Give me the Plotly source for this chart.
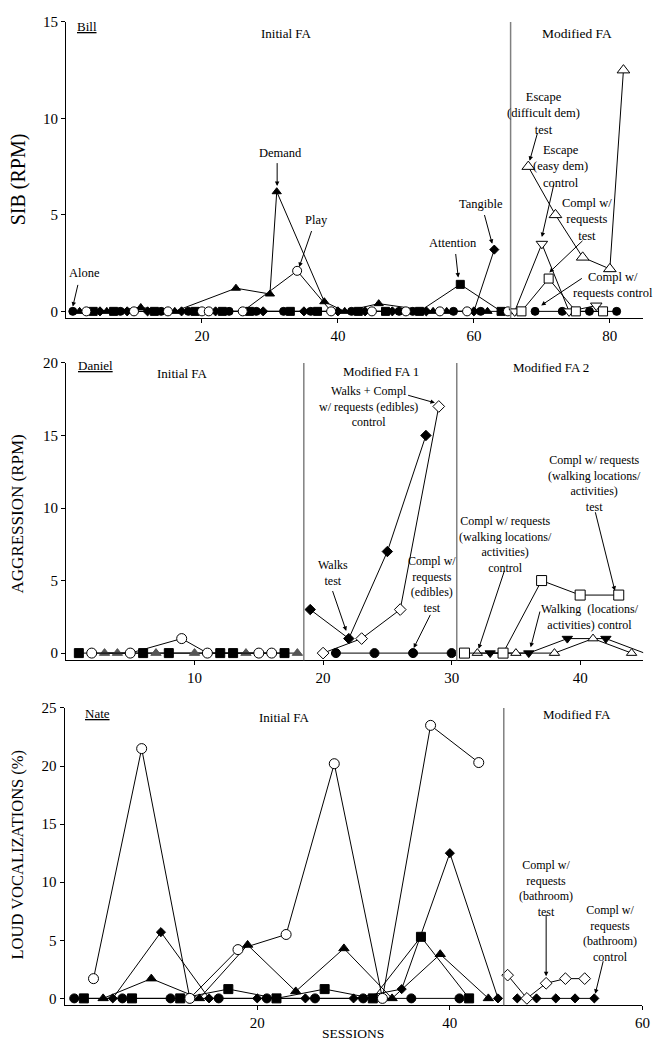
import plotly.graph_objects as go

# ---------------- Bill (SIB) ----------------
bill_alone_x = [1, 8, 14, 18, 24, 28, 32, 36, 42, 49, 51, 57, 61]
bill_alone_y = [0, 0, 0, 0, 0, 0, 0, 0, 0, 0, 0, 0, 0]
bill_attn_x = [4, 7, 13, 19, 23, 27, 33, 37, 43, 47, 52, 58, 64]
bill_attn_y = [0, 0, 0, 0, 0, 0, 0, 0, 0, 0, 0, 1.4, 0]
bill_tang_x = [5, 9, 12, 17, 22, 29, 35, 40, 44, 48, 53, 60, 63]
bill_tang_y = [0, 0, 0, 0, 0, 0, 0, 0, 0, 0, 0, 0, 3.2]
bill_dem_x = [2, 6, 11, 16, 25, 30, 31, 38, 41, 46, 54, 56, 62]
bill_dem_y = [0, 0, 0.2, 0, 1.2, 0.9, 6.2, 0.5, 0, 0.4, 0, 0, 0]
bill_play_x = [3, 10, 15, 20, 21, 26, 34, 39, 45, 50, 55, 59, 65]
bill_play_y = [0, 0, 0, 0, 0, 0, 2.1, 0, 0, 0, 0, 0, 0]
bill_esc_diff_x = [68, 72, 76, 80, 82]
bill_esc_diff_y = [7.5, 5.0, 2.8, 2.2, 12.5]
bill_esc_easy_x = [66, 70, 74, 78]
bill_esc_easy_y = [0, 3.5, 0, 0.3]
bill_compl_test_x = [67, 71, 75, 79]
bill_compl_test_y = [0, 1.7, 0, 0]
bill_compl_ctrl_x = [69, 73, 77, 81]
bill_compl_ctrl_y = [0, 0, 0, 0]
bill_phase = [65.4]

# ---------------- Daniel (Aggression) ----------------
dan_attn_x = [1, 6, 8, 12, 13, 17]
dan_attn_y = [0, 0, 0, 0, 0, 0]
dan_play_x = [2, 5, 9, 11, 15, 16]
dan_play_y = [0, 0, 1.0, 0, 0, 0]
dan_dem_x = [3, 4, 7, 10, 14, 18]
dan_dem_y = [0, 0, 0, 0, 0, 0]
dan_walks_x = [19, 22, 25, 28]
dan_walks_y = [3.0, 1.0, 7.0, 15.0]
dan_walkcompl_x = [20, 23, 26, 29]
dan_walkcompl_y = [0, 1.0, 3.0, 17.0]
dan_edib_x = [21, 24, 27, 30]
dan_edib_y = [0, 0, 0, 0]
dan_walkloc_test_x = [31, 34, 37, 40, 43]
dan_walkloc_test_y = [0, 0, 5.0, 4.0, 4.0]
dan_walkloc_ctrl_x = [32, 35, 38, 41, 44]
dan_walkloc_ctrl_y = [0, 0, 0, 1.0, 0]
dan_walking_x = [33, 36, 39, 42, 45]
dan_walking_y = [0, 0, 1.0, 1.0, 0]
dan_phase = [18.5, 30.4]

# ---------------- Nate (Loud vocalizations) ----------------
nate_alone_x = [1, 6, 11, 16, 21, 26, 31, 36, 41]
nate_alone_y = [0, 0, 0, 0, 0, 0, 0, 0, 0]
nate_attn_x = [2, 7, 12, 17, 22, 27, 32, 37, 42]
nate_attn_y = [0, 0, 0, 0.8, 0, 0.8, 0, 5.3, 0]
nate_play_x = [3, 8, 13, 18, 23, 28, 33, 38, 43]
nate_play_y = [1.7, 21.5, 0, 4.2, 5.5, 20.2, 0, 23.5, 20.3]
nate_dem_x = [4, 9, 14, 19, 24, 29, 34, 39, 44]
nate_dem_y = [0, 1.7, 0, 4.6, 0.6, 4.3, 0, 3.8, 0]
nate_tang_x = [5, 10, 15, 20, 25, 30, 35, 40, 45]
nate_tang_y = [0, 5.7, 0, 0, 0, 0, 0.8, 12.5, 0]
nate_bath_test_x = [46, 48, 50, 52, 54]
nate_bath_test_y = [2.0, 0, 1.3, 1.7, 1.7]
nate_bath_ctrl_x = [47, 49, 51, 53, 55]
nate_bath_ctrl_y = [0, 0, 0, 0, 0]
nate_phase = [45.6]

FONT = "Liberation Serif"
fig = go.Figure()


def add(x, y, symbol, size, fill, ax, line_color="black", mcolor="black"):
    xa = "x" if ax == 1 else "x%d" % ax
    ya = "y" if ax == 1 else "y%d" % ax
    fig.add_trace(go.Scatter(
        x=x, y=y, mode="lines+markers", xaxis=xa, yaxis=ya,
        line=dict(color=line_color, width=1),
        marker=dict(symbol=symbol, size=size, color=fill,
                    line=dict(color=mcolor, width=1)),
        cliponaxis=False, showlegend=False, hoverinfo="x+y"))


# Bill
add(bill_alone_x, bill_alone_y, "circle", 8, "black", 1)
add(bill_attn_x, bill_attn_y, "square", 8, "black", 1)
add(bill_tang_x, bill_tang_y, "diamond", 7, "black", 1)
add(bill_dem_x, bill_dem_y, "triangle-up", 8, "black", 1)
add(bill_play_x, bill_play_y, "circle", 9, "white", 1)
add(bill_compl_ctrl_x, bill_compl_ctrl_y, "circle", 8, "black", 1)
add(bill_esc_easy_x, bill_esc_easy_y, "triangle-down", 10, "white", 1)
add(bill_compl_test_x, bill_compl_test_y, "square", 9, "white", 1)
add(bill_esc_diff_x, bill_esc_diff_y, "triangle-up", 11, "white", 1)

# Daniel
add(dan_attn_x, dan_attn_y, "square", 9, "black", 2)
add(dan_dem_x, dan_dem_y, "triangle-up", 9, "#555555", 2, mcolor="#555555")
add(dan_play_x, dan_play_y, "circle", 10, "white", 2)
add(dan_edib_x, dan_edib_y, "circle", 9, "black", 2)
add(dan_walks_x, dan_walks_y, "diamond", 8, "black", 2)
add(dan_walkcompl_x, dan_walkcompl_y, "diamond", 9, "white", 2)
add(dan_walking_x, dan_walking_y, "triangle-down", 9, "black", 2)
add(dan_walkloc_ctrl_x, dan_walkloc_ctrl_y, "triangle-up", 9, "white", 2)
add(dan_walkloc_test_x, dan_walkloc_test_y, "square", 10, "white", 2)

# Nate
add(nate_alone_x, nate_alone_y, "circle", 9, "black", 3)
add(nate_attn_x, nate_attn_y, "square", 9, "black", 3)
add(nate_tang_x, nate_tang_y, "diamond", 7, "black", 3)
add(nate_dem_x, nate_dem_y, "triangle-up", 9, "black", 3)
add(nate_play_x, nate_play_y, "circle", 10, "white", 3)
add(nate_bath_ctrl_x, nate_bath_ctrl_y, "diamond", 7, "black", 3)
add(nate_bath_test_x, nate_bath_test_y, "diamond", 9, "white", 3)

# phase lines
shapes = []
for px in bill_phase:
    shapes.append(dict(type="line", xref="x", yref="y domain", x0=px, x1=px, y0=0, y1=1,
                       line=dict(color="#808080", width=1.5)))
for px in dan_phase:
    shapes.append(dict(type="line", xref="x2", yref="y2 domain", x0=px, x1=px, y0=0, y1=1,
                       line=dict(color="#808080", width=1.5)))
for px in nate_phase:
    shapes.append(dict(type="line", xref="x3", yref="y3 domain", x0=px, x1=px, y0=0, y1=1,
                       line=dict(color="#808080", width=1.5)))

ann = []


def txt(t, x, y, ax, size=12.5, xanchor="center"):
    xr = "x" if ax == 1 else "x%d" % ax
    yr = "y" if ax == 1 else "y%d" % ax
    ann.append(dict(text=t, x=x, y=y, xref=xr, yref=yr, showarrow=False,
                    xanchor=xanchor, yanchor="middle",
                    font=dict(family=FONT, size=size, color="black")))


def arrow(hx, hy, tx, ty, ax):
    xr = "x" if ax == 1 else "x%d" % ax
    yr = "y" if ax == 1 else "y%d" % ax
    ann.append(dict(text="", x=hx, y=hy, ax=tx, ay=ty, xref=xr, yref=yr,
                    axref=xr, ayref=yr, showarrow=True, arrowhead=2,
                    arrowsize=0.9, arrowwidth=1, arrowcolor="black"))


# Bill texts
txt("<u>Bill</u>", 1.3, 14.75, 1, size=13, xanchor="left")
txt("Initial FA", 32.5, 14.4, 1, size=13)
txt("Modified FA", 75.2, 14.4, 1, size=13.5)
txt("Alone", 2.7, 2.0, 1)
arrow(1.0, 0.25, 1.8, 1.45, 1)
txt("Demand", 31.6, 8.23, 1)
arrow(31.06, 6.5, 31.06, 7.76, 1)
txt("Play", 36.8, 4.72, 1)
arrow(34.3, 2.3, 36.2, 4.24, 1)
txt("Attention", 57.0, 3.53, 1)
arrow(57.7, 1.75, 57.3, 3.05, 1)
txt("Tangible", 61.0, 5.56, 1)
arrow(62.7, 3.5, 61.5, 5.07, 1)
txt("Escape<br>(difficult dem)<br>test", 70.2, 10.27, 1)
arrow(68.2, 7.8, 69.4, 9.3, 1)
txt("Escape<br>(easy dem)<br>control", 72.8, 7.53, 1)
arrow(70.0, 3.85, 71.8, 6.64, 1)
txt("Compl w/<br>requests<br>test", 76.7, 4.76, 1)
arrow(71.1, 2.02, 76.2, 3.73, 1)
txt("Compl w/<br>requests control", 80.5, 1.37, 1)
arrow(69.9, 0.31, 76.1, 1.76, 1)

# Daniel texts
txt("<u>Daniel</u>", 0.8, 19.85, 2, size=13, xanchor="left")
txt("Initial FA", 9.1, 19.27, 2, size=13)
txt("Modified FA 1", 24.5, 19.4, 2, size=13)
txt("Modified FA 2", 37.7, 19.7, 2, size=13)
txt("Walks + Compl<br>w/ requests (edibles)<br>control", 23.5, 17.0, 2, size=12)
arrow(28.7, 17.25, 26.5, 17.8, 2)
txt("Walks<br>test", 20.8, 5.52, 2, size=12)
arrow(21.8, 1.53, 20.7, 4.38, 2)
txt("Compl w/<br>requests<br>(edibles)<br>test", 28.46, 4.7, 2, size=12)
arrow(27.05, 0.35, 28.4, 2.74, 2)
txt("Compl w/ requests<br>(walking locations/<br>activities)<br>control", 34.2, 7.5, 2, size=12)
arrow(32.1, 0.3, 34.15, 5.79, 2)
txt("Compl w/ requests<br>(walking locations/<br>activities)<br>test", 41.15, 11.71, 2, size=12)
arrow(42.7, 4.3, 41.15, 9.81, 2)
txt("Walking  (locations/<br>activities) control", 40.8, 2.46, 2, size=12)
arrow(36.15, 0.4, 36.9, 2.97, 2)

# Nate texts
txt("<u>Nate</u>", 1.9, 24.5, 3, size=13, xanchor="left")
txt("Initial FA", 22.8, 24.2, 3, size=13)
txt("Modified FA", 53.2, 24.4, 3, size=13)
txt("Compl w/<br>requests<br>(bathroom)<br>test", 50.0, 9.47, 3, size=12)
arrow(50.0, 1.9, 50.0, 7.34, 3)
txt("Compl w/<br>requests<br>(bathroom)<br>control", 56.6, 5.55, 3, size=12)
arrow(55.1, 0.4, 55.96, 3.33, 3)

W, H = 665, 1048
# y-axis titles and x title
for t, px, py, s in [("SIB (RPM)", 19, 173, 20),
                     ("AGGRESSION (RPM)", 18, 510, 17),
                     ("LOUD VOCALIZATIONS (%)", 18, 854, 16.5)]:
    ann.append(dict(text=t, x=px / W, y=1 - py / H, xref="paper", yref="paper",
                    showarrow=False, textangle=-90, xanchor="center", yanchor="middle",
                    font=dict(family=FONT, size=s, color="black")))
ann.append(dict(text="SESSIONS", x=357 / W, y=1 - 1034 / H, xref="paper", yref="paper",
                showarrow=False, xanchor="center", yanchor="middle",
                font=dict(family=FONT, size=13.5, color="black")))


def xax(dom, rng, tv, anchor):
    return dict(domain=dom, range=rng, tickvals=tv, anchor=anchor, ticks="outside",
                ticklen=4, tickcolor="black", showline=True, linecolor="black",
                linewidth=1, showgrid=False, zeroline=False,
                tickfont=dict(family=FONT, size=15, color="black"))


def yax(dom, rng, tv, anchor):
    return dict(domain=dom, range=rng, tickvals=tv, anchor=anchor, ticks="outside",
                ticklen=4, tickcolor="black", showline=True, linecolor="black",
                linewidth=1, showgrid=False, zeroline=False,
                tickfont=dict(family=FONT, size=15, color="black"))


fig.update_layout(
    width=W, height=H, margin=dict(l=0, r=0, t=0, b=0),
    paper_bgcolor="white", plot_bgcolor="white",
    xaxis=xax([66.7 / W, 650 / W], [0, 84.9], [20, 40, 60, 80], "y"),
    yaxis=yax([1 - 313 / H, 1 - 14 / H], [-0.36, 15], [0, 5, 10, 15], "x"),
    xaxis2=xax([66.7 / W, 650 / W], [0, 44.9], [10, 20, 30, 40], "y2"),
    yaxis2=yax([1 - 658 / H, 1 - 358 / H], [-0.5, 20], [0, 5, 10, 15, 20], "x2"),
    xaxis3=xax([65.3 / W, 649.3 / W], [0, 60], [20, 40, 60], "y3"),
    yaxis3=yax([1 - 1006 / H, 1 - 706 / H], [-0.6, 25], [0, 5, 10, 15, 20, 25], "x3"),
    shapes=shapes, annotations=ann,
)

fig.write_html("out.html", config={"displayModeBar": False},
               post_script="document.body.style.margin='0';document.body.style.overflow='hidden';")
